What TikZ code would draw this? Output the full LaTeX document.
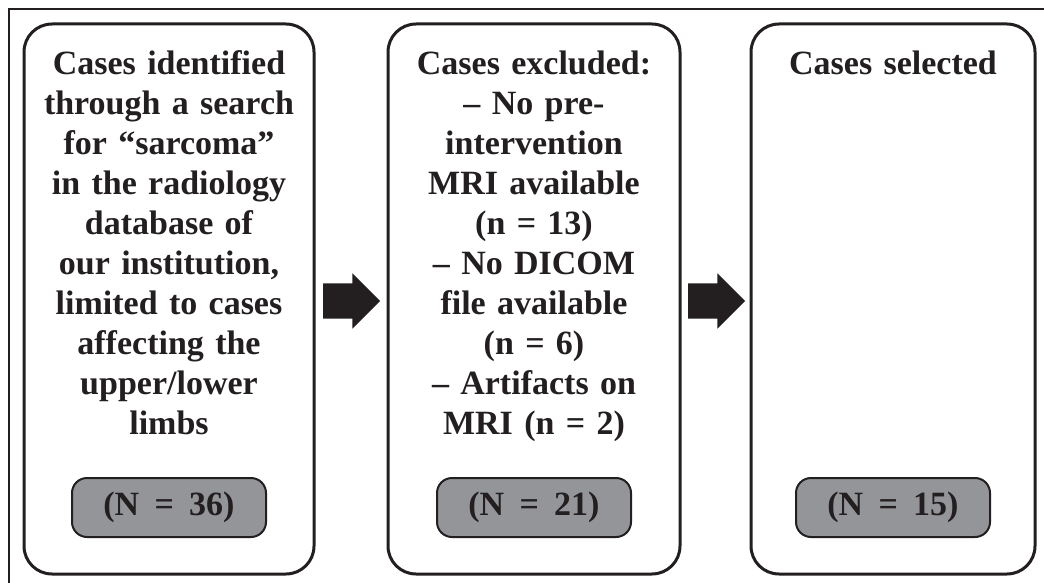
\documentclass[tikz,border=0pt]{standalone}
\usepackage{fontspec}
\setmainfont{Liberation Serif}
\newcommand*{\flowfont}{\fontsize{34}{40}\selectfont\bfseries}
\newcommand*{\gap}{\hspace{0.45em}}
\definecolor{ink}{RGB}{35,31,32}
\definecolor{countgrey}{RGB}{148,149,152}
\usetikzlibrary{shapes.arrows}
\usetikzlibrary{calc}
\tikzstyle{base}=[inner sep=0pt, outer sep=0pt]
\tikzstyle{stagebox}=[base, draw=ink, line width=3pt, rounded corners=28pt, minimum height=550pt]
\tikzstyle{stagetext}=[base, anchor=north, align=center, text=ink, text width=280pt, font=\flowfont]
\tikzstyle{countbox}=[base, draw=ink, fill=countgrey, line width=2pt, rounded corners=15pt, minimum width=194pt, minimum height=59pt, text=ink, font=\flowfont]
\tikzstyle{flowarrow}=[base, single arrow, fill=ink, inner ysep=17.5pt, minimum width=55pt, minimum height=57pt, single arrow head extend=10pt, anchor=tail]

\begin{document}
\begin{tikzpicture}[x=1pt, y=-1pt]
    \path [use as bounding box] (0,0) rectangle (1044,583);
    % frame
    \draw [ink, line width=1.5pt] (9,583) -- (9,9) -- (1044,9);
    % stages
    \node [stagebox, minimum width=290pt] (box1) at (169,299) {};
    \node [stagebox, minimum width=292pt] (box2) at (534,299) {};
    \node [stagebox, minimum width=284pt] (box3) at (893,299) {};
    \node [stagetext] (text1) at ($(box1.north)+(0,27)$) {Cases identified\\ through a search\\ for “sarcoma”\\ in the radiology\\ database of\\ our institution,\\ limited to cases\\ affecting the\\ upper/lower\\ limbs};
    \node [stagetext] (text2) at ($(box2.north)+(0,27)$) {Cases excluded:\\ -- No pre-\\ intervention\\ MRI available\\ (n = 13)\\ -- No DICOM\\ file available\\ (n = 6)\\ -- Artifacts on\\ MRI (n = 2)};
    \node [stagetext] (text3) at ($(box3.north)+(0,27)$) {Cases selected};
    % counts
    \node [countbox] (count1) at ($(box1.south)+(0,-66.5)$) {(N\gap=\gap36)};
    \node [countbox] (count2) at ($(box2.south)+(0,-66.5)$) {(N\gap=\gap21)};
    \node [countbox] (count3) at ($(box3.south)+(0,-66.5)$) {(N\gap=\gap15)};
    % arrows
    \node [flowarrow] (arrow1) at ($(box1.east)+(9,2)$) {};
    \node [flowarrow] (arrow2) at ($(box2.east)+(8,2)$) {};
\end{tikzpicture}
\end{document}
